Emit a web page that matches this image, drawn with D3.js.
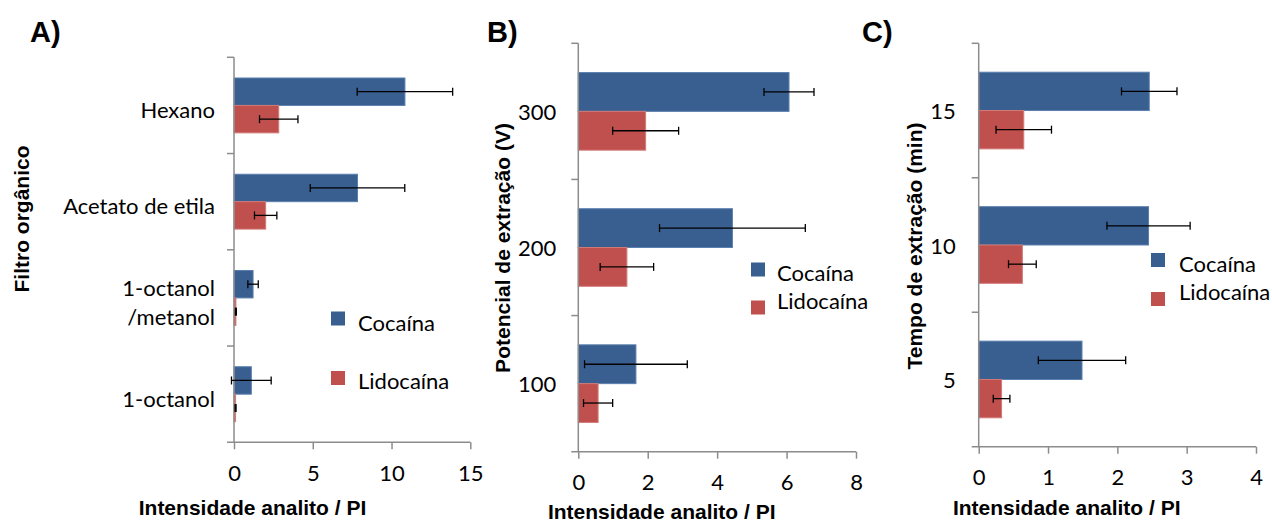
<!DOCTYPE html>
<html>
<head>
<meta charset="utf-8">
<script src="https://cdn.jsdelivr.net/npm/d3@7"></script>
<style>
  body { margin: 0; background: #fff; }
  svg { display: block; }
  .lbl { font-family: Lato, "Open Sans", sans-serif; font-size: 22px; fill: #000; }
  .ttl { font-family: "Liberation Sans", Arial, sans-serif; font-weight: bold; font-size: 21px; fill: #000; }
  .panel { font-family: "Liberation Sans", Arial, sans-serif; font-weight: bold; font-size: 29px; fill: #000; }
</style>
</head>
<body>
<div id="canvas"></div>
<script>
"use strict"

let svgWidth = 1272;
let svgHeight = 524;

// DATA
let series = ["Cocaína", "Lidocaína"];

// A) filtro organico
let solventes = ["Hexano", "Acetato de etila", "1-octanol/metanol", "1-octanol"];
let solventesLabel = [["Hexano"], ["Acetato de etila"], ["1-octanol", "/metanol"], ["1-octanol"]];
let cocainaA = [10.85, 7.84, 1.21, 1.10];
let cocainaErrA = [3.03, 3.0, 0.33, 1.26];
let lidocainaA = [2.84, 2.01, 0.12, 0.10];
let lidocainaErrA = [1.22, 0.71, 0.03, 0.03];
let ticksA = [0, 5, 10, 15];

// B) potencial de extracao (V)
let potenciais = ["300", "200", "100"];
let cocainaB = [6.07, 4.44, 1.66];
let cocainaErrB = [0.72, 2.1, 1.48];
let lidocainaB = [1.94, 1.40, 0.57];
let lidocainaErrB = [0.95, 0.77, 0.42];
let ticksB = [0, 2, 4, 6, 8];

// C) tempo de extracao (min)
let tempos = ["15", "10", "5"];
let cocainaC = [2.46, 2.45, 1.49];
let cocainaErrC = [0.4, 0.6, 0.63];
let lidocainaC = [0.65, 0.63, 0.33];
let lidocainaErrC = [0.4, 0.2, 0.12];
let ticksC = [0, 1, 2, 3, 4];

let colors = { "Cocaína": "#385f8f", "Lidocaína": "#c0504d" };
let strokes = { "Cocaína": "#5b7fae", "Lidocaína": "#d27a77" };
let axisGray = "#8c8c8c";

let svg = d3.select("#canvas")
  .append("svg")
  .attr("width", svgWidth)
  .attr("height", svgHeight);

function drawPanel(p) {
  let g = svg.append("g");

  let xScale = d3.scaleLinear()
    .domain([0, p.ticks[p.ticks.length - 1]])
    .range([p.left, p.right]);

  let yScale = d3.scaleBand()
    .domain(p.cats)
    .range([p.top, p.bottom]);

  let inner = d3.scaleBand()
    .domain(series)
    .range([yScale.bandwidth() * 0.215, yScale.bandwidth() * 0.785]);

  let rows = [];
  p.cats.forEach(function (c, i) {
    rows.push({ cat: c, s: series[0], v: p.coc[i], e: p.cocErr[i] });
    rows.push({ cat: c, s: series[1], v: p.lid[i], e: p.lidErr[i] });
  });

  // bars
  g.selectAll("rect.bar")
    .data(rows)
    .join("rect")
    .attr("class", "bar")
    .attr("x", xScale(0))
    .attr("y", function (d) { return yScale(d.cat) + inner(d.s); })
    .attr("width", function (d) { return xScale(d.v) - xScale(0); })
    .attr("height", inner.bandwidth())
    .attr("fill", function (d) { return colors[d.s]; })
    .attr("stroke", function (d) { return strokes[d.s]; })
    .attr("stroke-width", 1);

  // x axis
  let xAxis = g.append("g")
    .attr("transform", "translate(0," + p.bottom + ")")
    .call(d3.axisBottom(xScale).tickValues(p.ticks).tickFormat(d3.format("d"))
      .tickSize(7).tickSizeOuter(0).tickPadding(16));
  xAxis.select(".domain").attr("stroke", axisGray).attr("stroke-width", 1.5)
    .attr("d", "M" + (p.left - 7) + ",0H" + p.right);
  xAxis.selectAll(".tick line").attr("stroke", axisGray).attr("stroke-width", 1.5);
  xAxis.selectAll(".tick text")
    .attr("class", "lbl")
    .attr("fill", "#000");
  xAxis.attr("font-family", null).attr("font-size", null);

  // y axis line and ticks at band edges
  g.append("line")
    .attr("x1", p.left).attr("x2", p.left)
    .attr("y1", p.top).attr("y2", p.bottom)
    .attr("stroke", axisGray).attr("stroke-width", 1.5);
  let edges = p.cats.map(function (c) { return yScale(c); });
  g.selectAll("line.ytick")
    .data(edges)
    .join("line")
    .attr("class", "ytick")
    .attr("x1", p.left - 7).attr("x2", p.left)
    .attr("y1", function (d) { return d; })
    .attr("y2", function (d) { return d; })
    .attr("stroke", axisGray).attr("stroke-width", 1.5);

  // error bars
  let eb = g.selectAll("g.err")
    .data(rows)
    .join("g")
    .attr("class", "err")
    .attr("transform", function (d) {
      return "translate(0," + (yScale(d.cat) + inner(d.s) + inner.bandwidth() / 2) + ")";
    });
  eb.append("line")
    .attr("x1", function (d) { return xScale(d.v - d.e); })
    .attr("x2", function (d) { return xScale(d.v + d.e); })
    .attr("stroke", "#000").attr("stroke-width", 1.3);
  eb.append("line")
    .attr("x1", function (d) { return xScale(d.v - d.e); })
    .attr("x2", function (d) { return xScale(d.v - d.e); })
    .attr("y1", -4).attr("y2", 4)
    .attr("stroke", "#000").attr("stroke-width", 1.3);
  eb.append("line")
    .attr("x1", function (d) { return xScale(d.v + d.e); })
    .attr("x2", function (d) { return xScale(d.v + d.e); })
    .attr("y1", -4).attr("y2", 4)
    .attr("stroke", "#000").attr("stroke-width", 1.3);

  // category labels
  p.cats.forEach(function (c, i) {
    let lines = p.labels[i];
    let cy = yScale(c) + yScale.bandwidth() / 2 + p.labelDy;
    lines.forEach(function (t, j) {
      g.append("text")
        .attr("class", "lbl")
        .attr("x", p.left - p.labelGap)
        .attr("y", cy + (j - (lines.length - 1) / 2) * 29)
        .attr("text-anchor", "end")
        .attr("dominant-baseline", "central")
        .text(t);
    });
  });

  // axis titles
  g.append("text")
    .attr("class", "ttl")
    .attr("x", p.xTitle[0])
    .attr("y", p.xTitle[1])
    .attr("text-anchor", "middle")
    .attr("dominant-baseline", "central")
    .text("Intensidade analito / PI");

  g.append("text")
    .attr("class", "ttl")
    .attr("transform", "translate(" + p.yTitle[0] + "," + p.yTitle[1] + ") rotate(-90)")
    .attr("text-anchor", "middle")
    .attr("dominant-baseline", "central")
    .text(p.yTitleText);

  // panel letter
  g.append("text")
    .attr("class", "panel")
    .attr("x", p.letter[0])
    .attr("y", p.letter[1])
    .text(p.letterText);

  // legend
  series.forEach(function (s, i) {
    g.append("rect")
      .attr("x", p.legend.x)
      .attr("y", p.legend.sq[i])
      .attr("width", 14).attr("height", 14)
      .attr("fill", colors[s]);
    g.append("text")
      .attr("class", "lbl")
      .attr("x", p.legend.tx)
      .attr("y", p.legend.ty[i])
      .attr("dominant-baseline", "central")
      .text(s);
  });
}

drawPanel({
  cats: solventes, labels: solventesLabel,
  coc: cocainaA, cocErr: cocainaErrA, lid: lidocainaA, lidErr: lidocainaErrA,
  ticks: ticksA,
  left: 234, right: 470.3, top: 57.3, bottom: 442.3, labelGap: 19, labelDy: 4,
  xTitle: [252.5, 507], yTitle: [21, 219], yTitleText: "Filtro orgânico",
  letter: [30, 42], letterText: "A)",
  legend: { x: 331, sq: [311.5, 371], tx: 358, ty: [322, 380] }
});

drawPanel({
  cats: potenciais, labels: potenciais.map(function (d) { return [d]; }),
  coc: cocainaB, cocErr: cocainaErrB, lid: lidocainaB, lidErr: lidocainaErrB,
  ticks: ticksB,
  left: 578.3, right: 856, top: 43.3, bottom: 451.7, labelGap: 22, labelDy: 0,
  xTitle: [661.7, 511], yTitle: [502, 248], yTitleText: "Potencial de extração (V)",
  letter: [487, 42], letterText: "B)",
  legend: { x: 751, sq: [262.5, 300.5], tx: 777, ty: [272, 300] }
});

drawPanel({
  cats: tempos, labels: tempos.map(function (d) { return [d]; }),
  coc: cocainaC, cocErr: cocainaErrC, lid: lidocainaC, lidErr: lidocainaErrC,
  ticks: ticksC,
  left: 978.7, right: 1256, top: 43.3, bottom: 446.7, labelGap: 23, labelDy: 0,
  xTitle: [1066.7, 507], yTitle: [914, 246], yTitleText: "Tempo de extração (min)",
  letter: [862, 42], letterText: "C)",
  legend: { x: 1151, sq: [253, 292], tx: 1179, ty: [263, 291] }
});
</script>
</body>
</html>
